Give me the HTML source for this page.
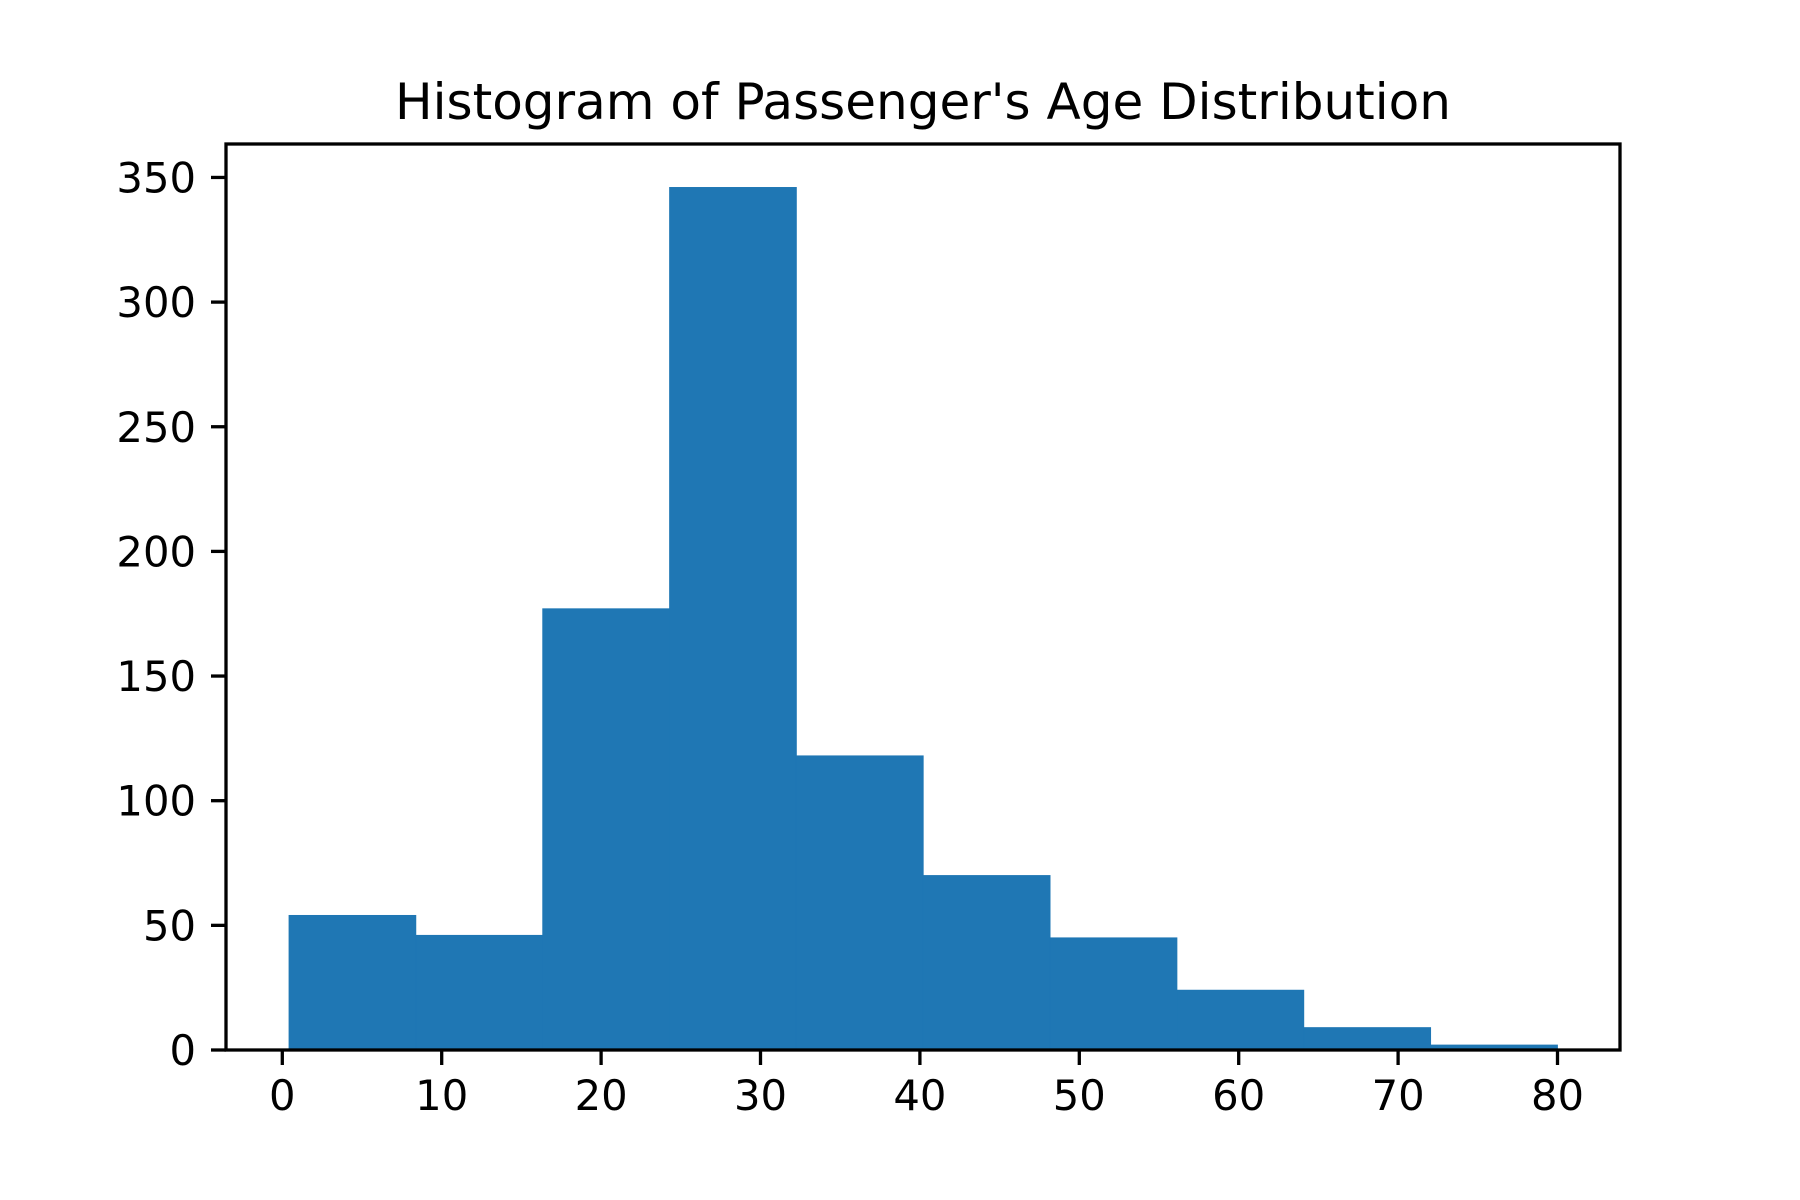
<!DOCTYPE html>
<html><head><meta charset="utf-8"><style>html,body{margin:0;padding:0;background:#fff}svg{display:block}</style></head>
<body>
<svg id="chart" width="1800" height="1200" viewBox="0 0 1800 1200" xmlns="http://www.w3.org/2000/svg" font-family="'DejaVu Sans','Liberation Sans',sans-serif">
<rect width="1800" height="1200" fill="#fff"/>
<text x="923" y="119" font-size="50" text-anchor="middle" textLength="1056" lengthAdjust="spacingAndGlyphs">Histogram of Passenger's Age Distribution</text>
<g id="bars"></g>
<g id="xticks"></g>
<g id="yticks"></g>
<rect x="226" y="144" width="1394" height="906" fill="none" stroke="#000" stroke-width="3.3"/>
</svg>
<script>
const binStart = 0.42;
const binEnd = 80;
const counts = [54, 46, 177, 346, 118, 70, 45, 24, 9, 2];
const xTickValues = [0, 10, 20, 30, 40, 50, 60, 70, 80];
const yTickValues = [0, 50, 100, 150, 200, 250, 300, 350];

const NS = 'http://www.w3.org/2000/svg';
const x = v => 282.3 + v * 15.94;
const y = v => 1050 - v * 2.493;
function mk(tag, attrs, parent) {
  const e = document.createElementNS(NS, tag);
  for (const k in attrs) e.setAttribute(k, attrs[k]);
  parent.appendChild(e);
  return e;
}
const bw = (binEnd - binStart) / counts.length;
const bars = document.getElementById('bars');
counts.forEach((c, i) => {
  const x0 = x(binStart + i * bw), x1 = x(binStart + (i + 1) * bw);
  const r = mk('rect', {x: x0, y: y(c), width: x1 - x0, height: y(0) - y(c), fill: '#1f77b4', stroke: '#1f77b4', 'stroke-width': 0.8}, bars);
  
  
});
const xt = document.getElementById('xticks');
xTickValues.forEach(v => {
  const l = mk('line', {x1: x(v), x2: x(v), y1: 1050, y2: 1065, stroke: '#000', 'stroke-width': 3.3}, xt);
  
  
  const t = mk('text', {x: x(v), y: 1110, 'font-size': 41.7, 'text-anchor': 'middle'}, xt);
  t.textContent = v;
  
  
});
const yt = document.getElementById('yticks');
yTickValues.forEach(v => {
  const l = mk('line', {x1: 211, x2: 226, y1: y(v), y2: y(v), stroke: '#000', 'stroke-width': 3.3}, yt);
  
  
  const t = mk('text', {x: 196, y: y(v) + 15, 'font-size': 41.7, 'text-anchor': 'end'}, yt);
  t.textContent = v;
  
  
});
</script>
</body></html>
